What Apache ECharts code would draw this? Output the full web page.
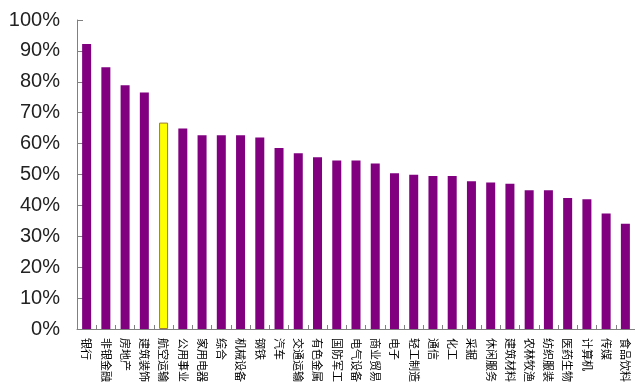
<!DOCTYPE html>
<html>
<head>
<meta charset="utf-8">
<script src="https://cdn.jsdelivr.net/npm/echarts@6/dist/echarts.min.js"></script>
<style>
  html, body { margin: 0; padding: 0; background: #fff; }
  #chart { width: 635px; height: 392px; }
</style>
</head>
<body>
<div id="chart"></div>
<script>
// 行业名称
const industries = ['银行', '非银金融', '房地产', '建筑装饰', '航空运输', '公用事业', '家用电器', '综合', '机械设备', '钢铁',
  '汽车', '交通运输', '有色金属', '国防军工', '电气设备', '商业贸易', '电子', '轻工制造', '通信', '化工',
  '采掘', '休闲服务', '建筑材料', '农林牧渔', '纺织服装', '医药生物', '计算机', '传媒', '食品饮料'];
// 占比（%）
const ratios = [92.2, 84.7, 78.9, 76.5, 66.8, 64.9, 62.7, 62.7, 62.7, 62.0,
  58.6, 56.9, 55.6, 54.5, 54.5, 53.6, 50.4, 49.9, 49.5, 49.5,
  47.8, 47.4, 47.0, 44.9, 44.9, 42.4, 42.0, 37.4, 34.1];
// 高亮的行业
const highlight = '航空运输';

const chart = echarts.init(document.getElementById('chart'));

chart.setOption({
  animation: false,
  grid: { left: 77, right: 0, top: 20, bottom: 63 },
  xAxis: {
    type: 'category',
    data: industries,
    axisLine: { lineStyle: { color: '#808080', width: 1 } },
    axisTick: { show: true, inside: true, length: 4, lineStyle: { color: '#808080' } },
    axisLabel: {
      rotate: -90,
      interval: 0,
      margin: 9,
      fontSize: 11,
      color: '#000',
      fontFamily: 'Noto Sans CJK SC'
    }
  },
  yAxis: {
    type: 'value',
    min: 0,
    max: 100,
    interval: 10,
    axisLine: { show: true, lineStyle: { color: '#808080', width: 1 } },
    axisTick: { show: true, inside: true, length: 6, lineStyle: { color: '#808080' } },
    splitLine: { show: false },
    axisLabel: {
      formatter: '{value}%',
      fontSize: 20,
      margin: 17,
      color: '#222',
      fontFamily: 'Liberation Sans'
    }
  },
  series: [
    {
      type: 'bar',
      barWidth: 9,
      data: ratios.map((v, i) => {
        if (industries[i] === highlight) {
          return { value: v, itemStyle: { color: '#FFFF00', borderColor: '#9C7A3C', borderWidth: 1 } };
        }
        return v;
      }),
      itemStyle: { color: '#800080' }
    }
  ]
});
</script>
</body>
</html>
